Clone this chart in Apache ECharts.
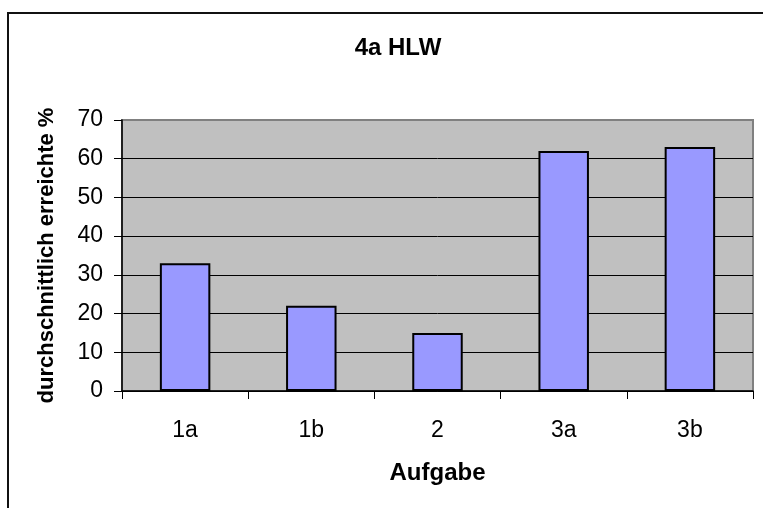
<!DOCTYPE html>
<html>
<head>
<meta charset="utf-8">
<script src="https://cdn.jsdelivr.net/npm/echarts@6/dist/echarts.min.js"></script>
<style>
  html, body { margin: 0; padding: 0; background: #fff; }
  #chart { width: 763px; height: 508px; }
</style>
</head>
<body>
<div id="chart"></div>
<script>
// Exercise labels and average achieved percentage per exercise
const categories = ['1a', '1b', '2', '3a', '3b'];
const values = [33, 22, 15, 62, 63];
const yTicks = [0, 10, 20, 30, 40, 50, 60, 70];

const FONT = '"Liberation Sans", Arial, Helvetica, sans-serif';

// Horizontal gridlines are black; the top one doubles as the grey plot border
const splitColors = yTicks.map((v, i) => (i === yTicks.length - 1 ? '#808080' : '#000000'));

const chart = echarts.init(document.getElementById('chart'), null, { renderer: 'canvas' });

chart.setOption({
  animation: false,
  backgroundColor: '#ffffff',
  title: {
    text: '4a HLW',
    left: 393,
    top: 31,
    textAlign: 'center',
    textStyle: { fontFamily: FONT, fontSize: 24, fontWeight: 'bold', color: '#000' }
  },
  graphic: [{
    type: 'rect',
    shape: { x: 8, y: 13, width: 800, height: 600 },
    style: { fill: 'none', stroke: '#111', lineWidth: 2 },
    z: 100,
    silent: true
  }],
  grid: {
    left: 122,
    top: 120,
    right: 10,
    bottom: 117,
    show: true,
    backgroundColor: '#C0C0C0',
    borderColor: '#808080',
    borderWidth: 2
  },
  xAxis: {
    type: 'category',
    data: categories,
    boundaryGap: true,
    name: 'Aufgabe',
    nameLocation: 'middle',
    nameGap: 70,
    nameMoveOverlap: false,
    nameTextStyle: { fontFamily: FONT, fontSize: 24, fontWeight: 'bold', color: '#000', verticalAlign: 'top' },
    axisLine: { show: true, lineStyle: { color: '#000', width: 1.5 } },
    axisTick: { show: true, inside: false, length: 8, alignWithLabel: false, lineStyle: { color: '#000', width: 1 } },
    axisLabel: { fontFamily: FONT, fontSize: 23, color: '#000', margin: 28 },
    splitLine: { show: false }
  },
  yAxis: {
    type: 'value',
    min: 0,
    max: 70,
    interval: 10,
    name: 'durchschnittlich erreichte %',
    nameLocation: 'middle',
    nameGap: 64,
    nameRotate: 90,
    nameMoveOverlap: false,
    nameTextStyle: { fontFamily: FONT, fontSize: 22, fontWeight: 'bold', color: '#000' },
    axisLine: { show: true, lineStyle: { color: '#000', width: 1.5 } },
    axisTick: { show: true, inside: false, length: 8, lineStyle: { color: '#000', width: 1 } },
    axisLabel: { fontFamily: FONT, fontSize: 23, color: '#000', margin: 19 },
    splitLine: { show: true, lineStyle: { color: splitColors, width: 1 } }
  },
  series: [{
    type: 'bar',
    data: values,
    barWidth: '40%',
    itemStyle: { color: '#9999FF', borderColor: '#000', borderWidth: 2 }
  }]
});
</script>
</body>
</html>
